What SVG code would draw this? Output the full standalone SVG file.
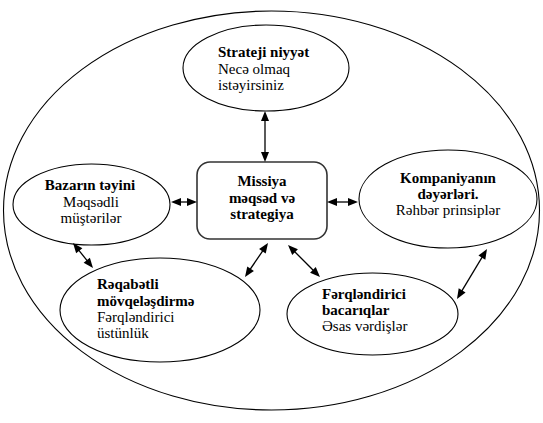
<svg xmlns="http://www.w3.org/2000/svg" width="543" height="423" viewBox="0 0 543 423">
<style>
.sh{fill:#fff;stroke:#000;stroke-width:1.1}
.box{fill:#fff;stroke:#333;stroke-width:1.6}
.b{font-weight:bold}
.c{text-anchor:middle}
.ln{stroke:#000;stroke-width:1.3}
.hd{fill:#000;stroke:none}
</style>
<rect width="543" height="423" fill="#fff"/>
<g id="outer"><ellipse class="sh" cx="271.5" cy="210.5" rx="268" ry="199.5"/></g>
<g id="strateji">
<ellipse class="sh" cx="266" cy="68" rx="83" ry="43"/>
<text x="218" y="57" class="b" font-family="Liberation Serif" font-size="15">Strateji niyyət</text>
<text x="218" y="74" font-family="Liberation Serif" font-size="15">Necə olmaq</text>
<text x="218" y="90" font-family="Liberation Serif" font-size="15">istəyirsiniz</text>
</g>
<g id="missiya">
<rect class="box" x="197" y="162" width="130" height="77" rx="13"/>
<text x="262" y="186" class="b c" font-family="Liberation Serif" font-size="15">Missiya</text>
<text x="262" y="203" class="b c" font-family="Liberation Serif" font-size="15">məqsəd və</text>
<text x="262" y="219" class="b c" font-family="Liberation Serif" font-size="15">strategiya</text>
</g>
<g id="bazar">
<ellipse class="sh" cx="91.5" cy="204.5" rx="78.5" ry="40.5"/>
<text x="90" y="190" class="b c" font-family="Liberation Serif" font-size="15">Bazarın təyini</text>
<text x="91" y="206.5" class="c" font-family="Liberation Serif" font-size="15">Məqsədli</text>
<text x="91" y="223" class="c" font-family="Liberation Serif" font-size="15">müştərilər</text>
</g>
<g id="kompaniya">
<ellipse class="sh" cx="448" cy="199" rx="89" ry="49"/>
<text x="448" y="183" class="b c" font-family="Liberation Serif" font-size="15">Kompaniyanın</text>
<text x="448" y="199" class="b c" font-family="Liberation Serif" font-size="15">dəyərləri.</text>
<text x="448" y="215" class="c" font-family="Liberation Serif" font-size="15">Rəhbər prinsiplər</text>
</g>
<g id="reqabet">
<ellipse class="sh" cx="160" cy="310" rx="100" ry="52"/>
<text x="97" y="289" class="b" font-family="Liberation Serif" font-size="15">Rəqabətli</text>
<text x="97" y="306" class="b" font-family="Liberation Serif" font-size="15">mövqeləşdirmə</text>
<text x="97" y="322" font-family="Liberation Serif" font-size="15">Fərqləndirici</text>
<text x="97" y="338" font-family="Liberation Serif" font-size="15">üstünlük</text>
</g>
<g id="ferq">
<ellipse class="sh" cx="372.5" cy="314" rx="85.5" ry="41"/>
<text x="322" y="299" class="b" font-family="Liberation Serif" font-size="15">Fərqləndirici</text>
<text x="322" y="315" class="b" font-family="Liberation Serif" font-size="15">bacarıqlar</text>
<text x="322" y="331" font-family="Liberation Serif" font-size="15">Əsas vərdişlər</text>
</g>
<g id="connectors">
<line class="ln" x1="265" y1="115" x2="265" y2="158"/>
<polygon class="hd" points="265,111 261,121 269,121"/>
<polygon class="hd" points="265,162 261,152 269,152"/>
<line class="ln" x1="175" y1="202" x2="193" y2="202"/>
<polygon class="hd" points="171,202 181,198 181,206"/>
<polygon class="hd" points="197,202 187,198 187,206"/>
<line class="ln" x1="331" y1="202" x2="354" y2="202"/>
<polygon class="hd" points="327,202 337,198 337,206"/>
<polygon class="hd" points="358,202 348,198 348,206"/>
<line class="ln" x1="75.5" y1="246.1" x2="90.5" y2="264.9"/>
<polygon class="hd" points="73,243 76.13,253.31 82.37,248.31"/>
<polygon class="hd" points="93,268 83.63,262.69 89.87,257.69"/>
<line class="ln" x1="265.8" y1="246.3" x2="247.2" y2="273.7"/>
<polygon class="hd" points="268,243 259.09,249.04 265.71,253.52"/>
<polygon class="hd" points="245,277 247.29,266.48 253.91,270.96"/>
<line class="ln" x1="290.8" y1="247.8" x2="317.2" y2="274.2"/>
<polygon class="hd" points="288,245 292.24,254.9 297.9,249.24"/>
<polygon class="hd" points="320,277 310.1,272.76 315.76,267.1"/>
<line class="ln" x1="485" y1="252.4" x2="459" y2="295.6"/>
<polygon class="hd" points="487,249 478.43,255.51 485.29,259.63"/>
<polygon class="hd" points="457,299 458.71,288.37 465.57,292.49"/>
</g>
</svg>
